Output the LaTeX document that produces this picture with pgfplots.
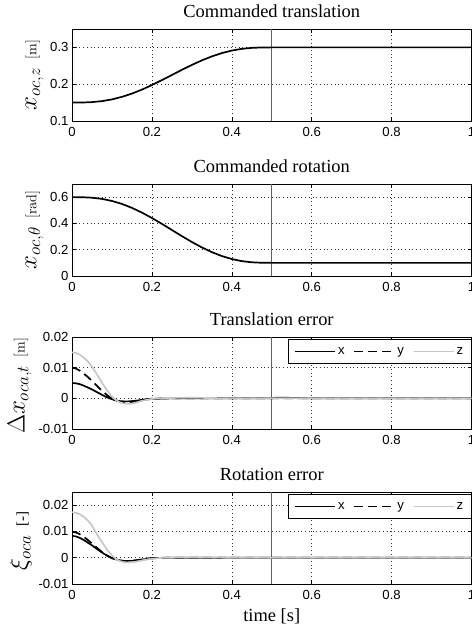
\documentclass[border=0pt]{standalone}
\usepackage[no-math]{fontspec}
\setmainfont{Liberation Serif}
\newfontfamily\helv{Liberation Sans}
\usepackage{pgfplots}
\pgfplotsset{compat=1.18}
\definecolor{zgray}{gray}{0.78}
\pgfplotsset{
 mystyle/.style={
  scale only axis, width=399.5bp, height=92bp, xmin=0, xmax=1,
  xtick={0,0.2,0.4,0.6,0.8,1},
  grid=major, major grid style={black!80, line width=0.5bp, dash pattern=on 0.7bp off 3bp},
  tick align=inside, major tick length=4bp, tick style={black, line width=0.5bp},
  axis line style={line width=0.9bp},
  ticklabel style={font=\helv\fontsize{13.2}{15}\selectfont},
  /pgf/number format/assume math mode=true,
  /pgf/number format/fixed,
  scaled y ticks=false, scaled x ticks=false,
  xticklabel style={yshift=-3bp},
  title style={at={(axis description cs:0.5,1)}, anchor=base, yshift=6bp, font=\fontsize{18.5}{21}\selectfont, inner sep=0pt},
  legend style={at={(axis description cs:1,1)}, anchor=north east, yshift=-2bp, draw=black, line width=0.8bp,
    legend columns=3, font=\helv\fontsize{13.2}{15}\selectfont, inner xsep=6bp, inner ysep=6bp,
    /tikz/every even column/.append style={column sep=7bp}},
  legend image code/.code={\draw[##1] (0bp,0bp) -- (40bp,0bp);},
 },
 vline/.style={black!62, line width=0.8bp, forget plot},
 cx/.style={black, line width=1.7bp},
 cy/.style={black, line width=1.7bp, dash pattern=on 9bp off 5bp},
 cz/.style={zgray, line width=1.7bp},
}
\newcommand{\yl}[2]{{\fontsize{23}{26}\selectfont$#1$}\hspace{8bp}{\fontsize{15}{17}\selectfont#2}}
\begin{document}
\begin{tikzpicture}
% Panel 1
\begin{axis}[mystyle, at={(72bp,506bp)}, anchor=south west,
  ymin=0.1, ymax=0.35, ytick={0.1,0.2,0.3},
  title={Commanded translation},
  ylabel={\yl{x_{oc,z}}{$[\mathrm{m}]$}}]
\addplot[vline] coordinates {(0.5,0.1) (0.5,0.35)};
\addplot[cx] coordinates {(0,0.15) (0.025,0.15017) (0.05,0.15128) (0.075,0.15399) (0.1,0.15869) (0.125,0.16553) (0.15,0.17446) (0.175,0.18528) (0.2,0.19762) (0.225,0.21103) (0.25,0.225) (0.275,0.23897) (0.3,0.25238) (0.325,0.26472) (0.35,0.27554) (0.375,0.28447) (0.4,0.29131) (0.425,0.29601) (0.45,0.29872) (0.475,0.29983) (0.5,0.3) (1,0.3)};
\end{axis}
% Panel 2
\begin{axis}[mystyle, at={(72bp,351bp)}, anchor=south west,
  ymin=0, ymax=0.7, ytick={0,0.2,0.4,0.6},
  title={Commanded rotation},
  ylabel={\yl{x_{oc,\theta}}{$[\mathrm{rad}]$}}]
\addplot[vline] coordinates {(0.5,0) (0.5,0.7)};
\addplot[cx] coordinates {(0,0.6) (0.025,0.59942) (0.05,0.59572) (0.075,0.5867) (0.1,0.57104) (0.125,0.54824) (0.15,0.51846) (0.175,0.48242) (0.2,0.44128) (0.225,0.39656) (0.25,0.35) (0.275,0.30344) (0.3,0.25872) (0.325,0.21758) (0.35,0.18154) (0.375,0.15176) (0.4,0.12896) (0.425,0.1133) (0.45,0.10428) (0.475,0.10058) (0.5,0.1) (1,0.1)};
\end{axis}
% Panel 3
\begin{axis}[mystyle, at={(72bp,198bp)}, anchor=south west,
  ymin=-0.01, ymax=0.02, ytick={-0.01,0,0.01,0.02},
  title={Translation error},
  ylabel={\yl{\Delta x_{oca,t}}{$[\mathrm{m}]$}}, ylabel style={xshift=-3bp}]
\addplot[vline] coordinates {(0.5,-0.01) (0.5,0.02)};
\addplot[cx] coordinates {(0,0.0050) (0.01,0.0049) (0.02,0.0046) (0.03,0.0041) (0.04,0.0035) (0.05,0.0029) (0.06,0.0022) (0.07,0.0015) (0.08,0.0008) (0.09,0.0002) (0.10,-0.0003) (0.11,-0.0007) (0.12,-0.0009) (0.13,-0.0010) (0.14,-0.0010) (0.15,-0.0009) (0.16,-0.0008) (0.17,-0.0006) (0.18,-0.0004) (0.19,-0.0003) (0.20,-0.0002) (0.22,-0.0001) (0.25,0) (0.5,0) (0.51,0.0002) (0.53,0.0002) (0.56,0.0001) (0.6,0) (1,0)};
\addlegendentry{x}
\addplot[cy] coordinates {(0,0.0100) (0.01,0.0097) (0.02,0.0090) (0.03,0.0080) (0.04,0.0069) (0.05,0.0057) (0.06,0.0044) (0.07,0.0031) (0.08,0.0019) (0.09,0.0008) (0.10,-0.0001) (0.11,-0.0007) (0.12,-0.0011) (0.13,-0.0013) (0.14,-0.0013) (0.15,-0.0012) (0.16,-0.0010) (0.17,-0.0007) (0.18,-0.0005) (0.19,-0.0003) (0.20,-0.0001) (0.22,0) (1,0)};
\addlegendentry{y}
\addplot[cz] coordinates {(0,0.0150) (0.01,0.0148) (0.02,0.0142) (0.03,0.0133) (0.04,0.0120) (0.05,0.0103) (0.06,0.0083) (0.07,0.0062) (0.08,0.0041) (0.09,0.0022) (0.10,0.0006) (0.11,-0.0006) (0.12,-0.0013) (0.13,-0.0017) (0.14,-0.0018) (0.15,-0.0017) (0.16,-0.0014) (0.17,-0.0010) (0.18,-0.0007) (0.19,-0.0004) (0.20,-0.0002) (0.21,0) (0.23,0.0001) (0.30,0.0002) (0.35,0.0001) (0.40,0) (1,0)};
\addlegendentry{z}
\end{axis}
% Panel 4
\begin{axis}[mystyle, at={(72bp,43bp)}, anchor=south west,
  ymin=-0.01, ymax=0.025, ytick={-0.01,0,0.01,0.02},
  title={Rotation error},
  xlabel={time [s]},
  xlabel style={at={(axis description cs:0.5,0)}, anchor=base, yshift=-37bp, font=\fontsize{18.5}{21}\selectfont, inner sep=0pt},
  ylabel={\yl{\xi_{oca}}{[-]}}, ylabel style={xshift=-3bp}]
\addplot[vline] coordinates {(0.5,-0.01) (0.5,0.025)};
\addplot[cx] coordinates {(0,0.0083) (0.01,0.0081) (0.02,0.0075) (0.03,0.0067) (0.04,0.0057) (0.05,0.0047) (0.06,0.0036) (0.07,0.0025) (0.08,0.0015) (0.09,0.0006) (0.10,-0.0001) (0.11,-0.0006) (0.12,-0.0010) (0.13,-0.0012) (0.14,-0.0012) (0.15,-0.0012) (0.16,-0.0010) (0.17,-0.0008) (0.18,-0.0006) (0.19,-0.0004) (0.20,-0.0002) (0.22,-0.0001) (0.25,0) (1,0)};
\addlegendentry{x}
\addplot[cy] coordinates {(0,0.0098) (0.01,0.0096) (0.02,0.0089) (0.03,0.0079) (0.04,0.0067) (0.05,0.0054) (0.06,0.0041) (0.07,0.0028) (0.08,0.0016) (0.09,0.0006) (0.10,-0.0002) (0.11,-0.0007) (0.12,-0.0011) (0.13,-0.0013) (0.14,-0.0013) (0.15,-0.0012) (0.16,-0.0010) (0.17,-0.0008) (0.18,-0.0005) (0.19,-0.0003) (0.20,-0.0002) (0.22,0) (1,0)};
\addlegendentry{y}
\addplot[cz] coordinates {(0,0.0173) (0.01,0.0171) (0.02,0.0165) (0.03,0.0155) (0.04,0.0141) (0.05,0.0122) (0.06,0.0095) (0.07,0.0071) (0.08,0.0048) (0.09,0.0026) (0.10,0.0009) (0.11,-0.0005) (0.12,-0.0013) (0.13,-0.0017) (0.14,-0.0018) (0.15,-0.0017) (0.16,-0.0015) (0.17,-0.0012) (0.18,-0.0009) (0.19,-0.0006) (0.20,-0.0004) (0.22,-0.0001) (0.24,0) (0.30,0.0001) (0.40,0) (1,0)};
\addlegendentry{z}
\end{axis}
\pgfresetboundingbox
\path[use as bounding box] (0,0) rectangle (472bp,627bp);
\end{tikzpicture}
\end{document}
